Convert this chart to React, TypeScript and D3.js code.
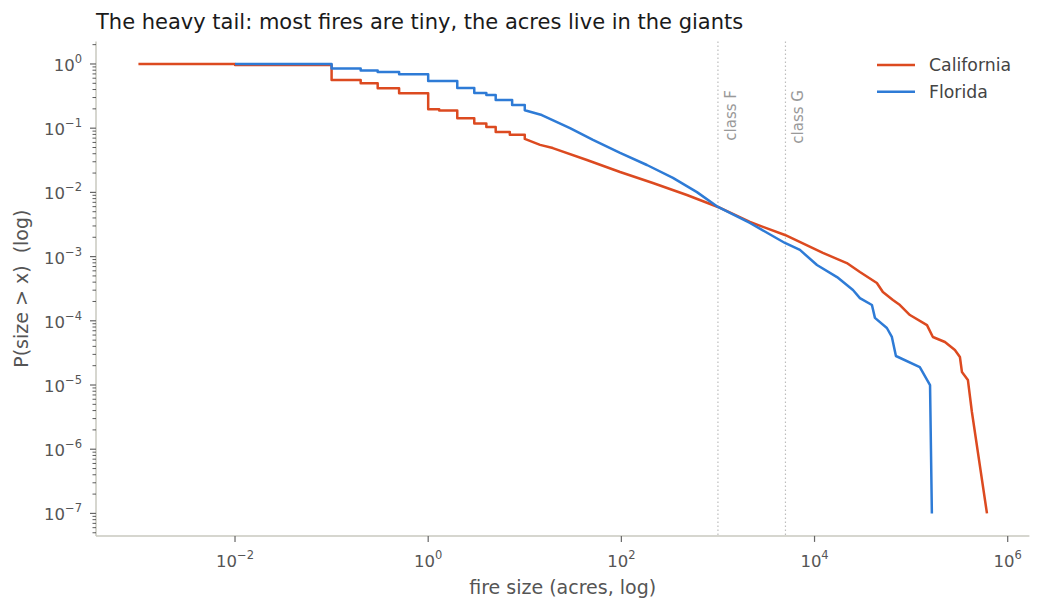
import * as d3 from 'd3';

const caSizes = [
	0.001, 0.01, 0.01, 0.1, 0.1, 0.2, 0.2, 0.3, 0.3, 0.5, 0.5, 1, 1, 1.3, 1.3, 2, 2, 3, 3, 4, 4, 5, 5, 7, 7, 10, 10,
	14.4, 19.5, 44, 97, 212, 477, 1000, 2143, 4940, 12200, 21600, 29500, 44200, 51000, 64800, 76600, 97200, 146000,
	168000, 224000, 284000, 320000, 336000, 387000, 426000, 610000,
];
const caShare = [
	1.0, 1.0, 0.965, 0.965, 0.563, 0.563, 0.5, 0.5, 0.42, 0.42, 0.35, 0.35, 0.197, 0.197, 0.189, 0.189, 0.143, 0.143,
	0.118, 0.118, 0.104, 0.104, 0.087, 0.087, 0.079, 0.079, 0.068, 0.055, 0.049, 0.032, 0.0208, 0.014, 0.0091, 0.00593,
	0.00346, 0.00217, 0.00114, 0.000794, 0.000575, 0.000388, 0.000281, 0.000211, 0.000176, 0.000123, 8.58e-5, 5.6e-5,
	4.68e-5, 3.51e-5, 2.73e-5, 1.59e-5, 1.2e-5, 3.8e-6, 1e-7,
];
const flSizes = [
	0.01, 0.1, 0.1, 0.2, 0.2, 0.3, 0.3, 0.5, 0.5, 1, 1, 2, 2, 3, 3, 4, 4, 5, 5, 7.4, 7.4, 10, 10, 15, 29.4, 50.8, 97,
	184, 342, 606, 1000, 2143, 4940, 7060, 10600, 17100, 25000, 29500, 39300, 42200, 56100, 63200, 69600, 123000,
	157000, 164000,
];
const flShare = [
	1.0, 1.0, 0.85, 0.85, 0.79, 0.79, 0.75, 0.75, 0.69, 0.69, 0.543, 0.543, 0.423, 0.423, 0.353, 0.353, 0.329, 0.329,
	0.275, 0.275, 0.23, 0.23, 0.19, 0.16, 0.1, 0.0655, 0.0411, 0.0267, 0.0168, 0.0101, 0.00593, 0.00334, 0.00163,
	0.00127, 0.00074, 0.00048, 0.000302, 0.000226, 0.000176, 0.000111, 7.73e-5, 5.6e-5, 2.83e-5, 1.9e-5, 1.0e-5, 1e-7,
];

const seriesNames = ['California', 'Florida'];
const seriesColors = ['#dc4a20', '#2e7bd6'];

const xTickExps = [-2, 0, 2, 4, 6];
const yTickExps = [0, -1, -2, -3, -4, -5, -6, -7];

const classNames = ['class F', 'class G'];
const classAcres = [1000, 5000];

const W = 1042;
const H = 613;
const left = 96;
const right = 1029.4;
const top = 41.5;
const bottom = 535.9;
const FONT = '"DejaVu Sans", sans-serif';

// matplotlib-style 5% padding in log space
function padLog(vals: number[]) {
	const [lo, hi] = d3.extent(vals.map(Math.log10)) as [number, number];
	const pad = (hi - lo) * 0.05;
	return [10 ** (lo - pad), 10 ** (hi + pad)];
}

const sup = (e: number) => (e < 0 ? '\u2212' + Math.abs(e) : String(e));

export default function App() {
	const x = d3.scaleLog().domain(padLog([...caSizes, ...flSizes])).range([left, right]);
	const y = d3.scaleLog().domain(padLog([...caShare, ...flShare])).range([bottom, top]);

	const line = d3
		.line<[number, number]>()
		.x((d) => x(d[0]))
		.y((d) => y(d[1]));

	const series = [
		d3.zip(caSizes, caShare) as [number, number][],
		d3.zip(flSizes, flShare) as [number, number][],
	];

	// minor ticks 2..9 x 10^k inside the y domain
	const [yLo, yHi] = y.domain();
	const yMinor: number[] = [];
	for (let k = -8; k <= 0; k++) {
		for (let m = 2; m <= 9; m++) {
			const v = m * 10 ** k;
			if (v >= yLo && v <= yHi) yMinor.push(v);
		}
	}

	return (
		<svg
			width={W}
			height={H}
			style={{ position: 'absolute', left: 0, top: 0, background: '#fff' }}
			fontFamily={FONT}
		>
			<text x={left} y={29} fontSize={21} fill="#1a1a1a">
				The heavy tail: most fires are tiny, the acres live in the giants
			</text>

			{/* class boundaries */}
			{classAcres.map((a, i) => (
				<g key={classNames[i]}>
					<line
						x1={x(a)}
						x2={x(a)}
						y1={top}
						y2={bottom}
						stroke="#bdbdbd"
						strokeWidth={1.2}
						strokeDasharray="1.5,2.5"
					/>
					<text
						transform={`translate(${x(a) + 18},90) rotate(-90)`}
						textAnchor="end"
						fontSize={15}
						fill="#999"
					>
						{classNames[i]}
					</text>
				</g>
			))}

			{series.map((s, i) => (
				<path
					key={seriesNames[i]}
					d={line(s) || ''}
					fill="none"
					stroke={seriesColors[i]}
					strokeWidth={2.5}
					strokeLinejoin="round"
				/>
			))}

			{/* spines */}
			<line x1={left} x2={left} y1={top} y2={bottom} stroke="#c9c9bf" strokeWidth={1.5} />
			<line x1={left} x2={right} y1={bottom} y2={bottom} stroke="#c9c9bf" strokeWidth={1.5} />

			{/* y ticks */}
			{yMinor.map((v) => (
				<line key={'m' + v} x1={left - 3.5} x2={left} y1={y(v)} y2={y(v)} stroke="#333" strokeWidth={0.8} />
			))}
			{yTickExps.map((e) => (
				<g key={'y' + e} transform={`translate(0,${y(10 ** e)})`}>
					<line x1={left - 6} x2={left} stroke="#666" strokeWidth={1.2} />
					<text x={82} y={7} textAnchor="end" fontSize={16.5} fill="#555">
						10
						<tspan fontSize={11.5} dy={-8}>
							{sup(e)}
						</tspan>
					</text>
				</g>
			))}

			{/* x ticks */}
			{xTickExps.map((e) => (
				<g key={'x' + e} transform={`translate(${x(10 ** e)},0)`}>
					<line y1={bottom} y2={bottom + 6} stroke="#666" strokeWidth={1.2} />
					<text x={0} y={566.5} textAnchor="middle" fontSize={16.5} fill="#555">
						10
						<tspan fontSize={11.5} dy={-8}>
							{sup(e)}
						</tspan>
					</text>
				</g>
			))}

			<text x={(left + right) / 2} y={594} textAnchor="middle" fontSize={19} fill="#555">
				fire size (acres, log)
			</text>
			<text
				transform={`translate(28,${(top + bottom) / 2}) rotate(-90)`}
				textAnchor="middle"
				fontSize={19}
				fill="#555"
				style={{ whiteSpace: 'pre' }}
			>
				{'P(size > x)  (log)'}
			</text>

			{/* legend */}
			{seriesNames.map((n, i) => (
				<g key={n} transform={`translate(0,${65 + i * 26.7})`}>
					<line x1={877} x2={915} stroke={seriesColors[i]} strokeWidth={2.5} />
					<text x={929} y={6} fontSize={17.3} fill="#444">
						{n}
					</text>
				</g>
			))}
		</svg>
	);
}
